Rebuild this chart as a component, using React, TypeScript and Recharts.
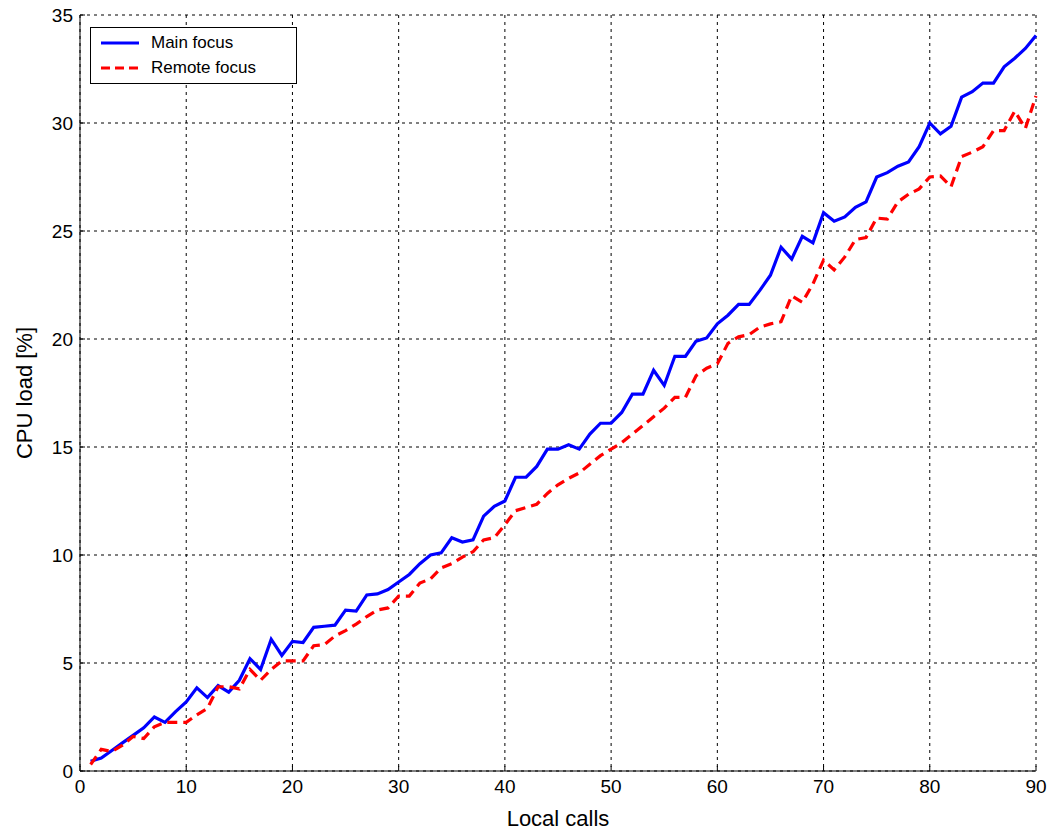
import {
  LineChart,
  Line,
  XAxis,
  YAxis,
  CartesianGrid,
  Legend,
} from "recharts";

const calls = Array.from({ length: 90 }, (_, i) => i + 1);

const mainFocus = [
  0.45, 0.6, 0.95, 1.3, 1.65, 2.0, 2.5, 2.25, 2.75, 3.2,
  3.85, 3.4, 3.95, 3.65, 4.2, 5.2, 4.7, 6.1, 5.35, 6.0,
  5.95, 6.65, 6.7, 6.75, 7.45, 7.4, 8.15, 8.2, 8.4, 8.75,
  9.1, 9.6, 10.0, 10.1, 10.8, 10.6, 10.7, 11.8, 12.25, 12.5,
  13.6, 13.6, 14.1, 14.9, 14.9, 15.1, 14.9, 15.6, 16.1, 16.1,
  16.6, 17.45, 17.45, 18.55, 17.85, 19.2, 19.2, 19.9, 20.05, 20.7,
  21.1, 21.6, 21.6, 22.25, 22.95, 24.25, 23.7, 24.75, 24.45, 25.85,
  25.45, 25.65, 26.1, 26.35, 27.5, 27.7, 28.0, 28.2, 28.9, 30.0,
  29.5, 29.85, 31.2, 31.45, 31.85, 31.85, 32.6, 33.0, 33.45, 34.05,
];

const remoteFocus = [
  0.3, 1.0, 0.9, 1.2, 1.6, 1.5, 2.05, 2.25, 2.25, 2.25,
  2.6, 2.9, 3.9, 3.9, 3.8, 4.7, 4.2, 4.7, 5.1, 5.1,
  5.1, 5.8, 5.85, 6.25, 6.5, 6.8, 7.15, 7.45, 7.55, 8.1,
  8.1, 8.7, 8.9, 9.4, 9.6, 9.9, 10.15, 10.7, 10.8, 11.4,
  12.05, 12.2, 12.35, 12.85, 13.25, 13.55, 13.8, 14.2, 14.6, 14.9,
  15.2, 15.6, 16.0, 16.4, 16.8, 17.3, 17.3, 18.3, 18.65, 18.85,
  19.8, 20.1, 20.2, 20.55, 20.7, 20.8, 22.0, 21.7, 22.55, 23.65,
  23.2, 23.8, 24.6, 24.7, 25.6, 25.55, 26.35, 26.7, 26.95, 27.5,
  27.55, 27.05, 28.45, 28.65, 28.9, 29.65, 29.65, 30.55, 29.75, 31.25,
];

const xTicks = [0, 10, 20, 30, 40, 50, 60, 70, 80, 90];
const yTicks = [0, 5, 10, 15, 20, 25, 30, 35];

const data = calls.map((c, i) => ({
  calls: c,
  main: mainFocus[i],
  remote: remoteFocus[i],
}));

const font = "'Liberation Sans', Arial, sans-serif";

// legend box like the matlab one
const LegendBox = () => (
  <div
    style={{
      width: 207,
      height: 57,
      border: "1px solid #000",
      background: "#fff",
      fontFamily: font,
      fontSize: 17,
      color: "#000",
      boxSizing: "border-box",
      paddingTop: 2,
    }}
  >
    <div style={{ display: "flex", alignItems: "center", height: 25 }}>
      <svg width={60} height={10}>
        <line x1={10} y1={5} x2={48} y2={5} stroke="#0000ff" strokeWidth={3} />
      </svg>
      <span>Main focus</span>
    </div>
    <div style={{ display: "flex", alignItems: "center", height: 25 }}>
      <svg width={60} height={10}>
        <line
          x1={10}
          y1={5}
          x2={48}
          y2={5}
          stroke="#ff0000"
          strokeWidth={3}
          strokeDasharray="9 5"
        />
      </svg>
      <span>Remote focus</span>
    </div>
  </div>
);

const App = () => {
  return (
    <div style={{ position: "absolute", left: 0, top: 0, background: "#fff" }}>
      <LineChart
        width={1049}
        height={833}
        data={data}
        margin={{ top: 15, right: 13, bottom: 0, left: 0 }}
      >
        <CartesianGrid
          stroke="#000"
          strokeDasharray="3 4"
          strokeWidth={1}
          horizontalValues={yTicks}
          verticalValues={xTicks}
        />

        <XAxis
          dataKey="calls"
          type="number"
          domain={[0, 90]}
          ticks={xTicks}
          height={62}
          stroke="#000"
          tickSize={-5}
          tickMargin={14}
          tick={{ fill: "#000", fontSize: 19, fontFamily: font }}
          label={{
            value: "Local calls",
            position: "insideBottom",
            offset: 7,
            style: { fill: "#000", fontSize: 22, fontFamily: font },
          }}
        />
        <XAxis
          xAxisId="top"
          dataKey="calls"
          type="number"
          orientation="top"
          domain={[0, 90]}
          ticks={xTicks}
          height={0}
          stroke="#000"
          tickSize={-5}
          tickFormatter={() => ""}
        />

        <YAxis
          type="number"
          domain={[0, 35]}
          ticks={yTicks}
          width={80}
          stroke="#000"
          tickSize={-5}
          tickMargin={12}
          tick={{ fill: "#000", fontSize: 19, fontFamily: font }}
          label={{
            value: "CPU load [%]",
            angle: -90,
            position: "insideLeft",
            offset: 24,
            style: { fill: "#000", fontSize: 22, fontFamily: font, textAnchor: "middle" },
          }}
        />
        <YAxis
          yAxisId="right"
          type="number"
          orientation="right"
          domain={[0, 35]}
          ticks={yTicks}
          width={0}
          stroke="#000"
          tickSize={-5}
          tickFormatter={() => ""}
        />

        <Legend
          layout="vertical"
          verticalAlign="middle"
          align="center"
          wrapperStyle={{ left: 90, top: 27, width: "auto" }}
          content={() => <LegendBox />}
        />

        <Line
          type="linear"
          dataKey="main"
          stroke="#0000ff"
          strokeWidth={3.2}
          dot={false}
          isAnimationActive={false}
        />
        <Line
          type="linear"
          dataKey="remote"
          stroke="#ff0000"
          strokeWidth={3.2}
          strokeDasharray="10 6"
          dot={false}
          isAnimationActive={false}
        />
      </LineChart>
    </div>
  );
};

export default App;
